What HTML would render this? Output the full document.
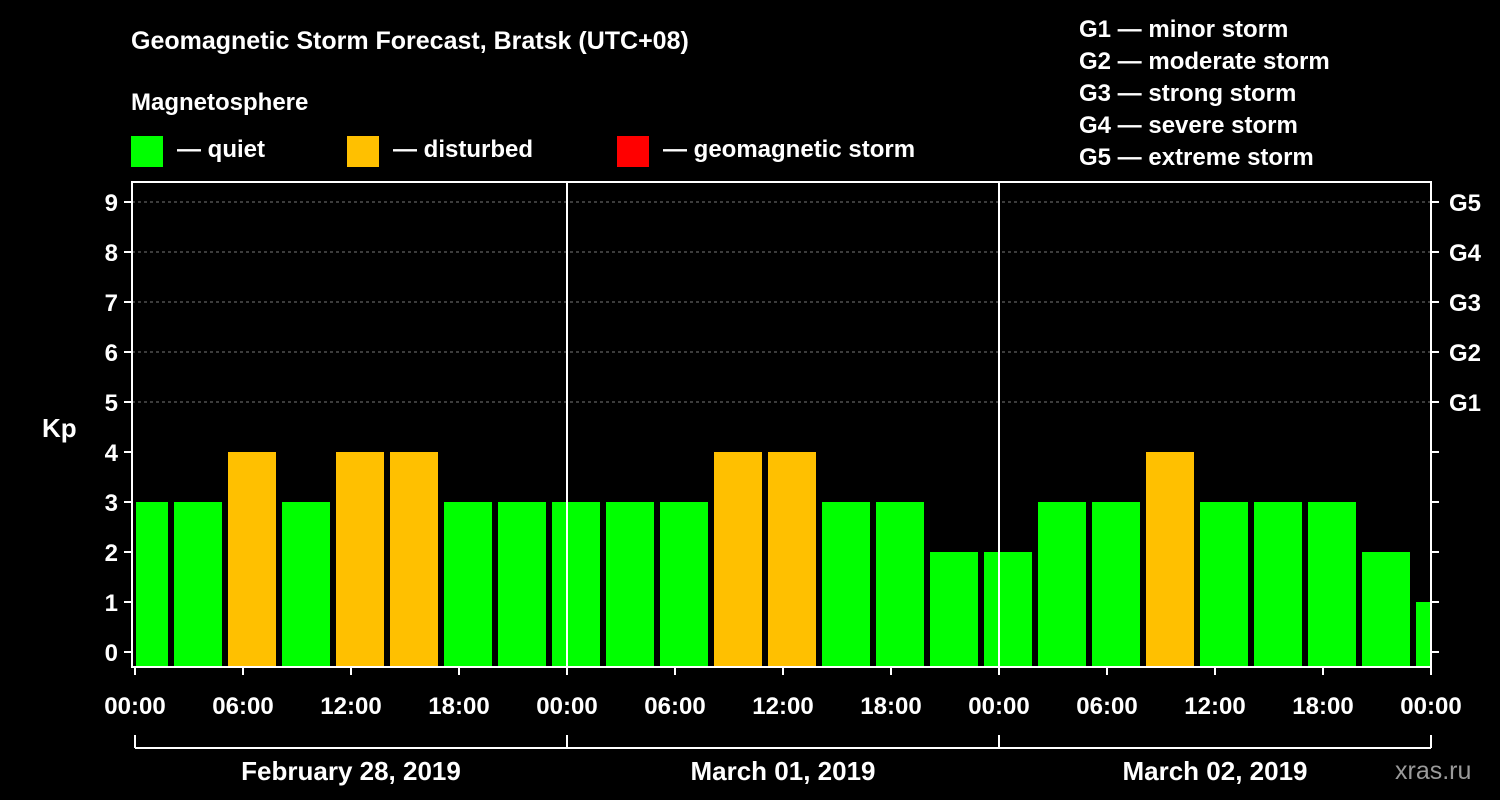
<!DOCTYPE html>
<html><head><meta charset="utf-8"><style>
html,body{margin:0;padding:0;background:#000;}
svg{display:block;font-family:"Liberation Sans",Arial,sans-serif;font-weight:bold;}
</style></head><body>
<svg id="chart" width="1500" height="800" viewBox="0 0 1500 800" xmlns="http://www.w3.org/2000/svg">
<rect width="1500" height="800" fill="#000"/>
<text x="131" y="49" fill="#fff" font-size="25">Geomagnetic Storm Forecast, Bratsk (UTC+08)</text>
<text x="131" y="110" fill="#fff" font-size="24">Magnetosphere</text>
<g><rect x="131" y="136" width="32" height="31" fill="#00ff00"/><text x="177" y="157" fill="#fff" font-size="24">— quiet</text></g>
<g><rect x="347" y="136" width="32" height="31" fill="#ffc000"/><text x="393" y="157" fill="#fff" font-size="24">— disturbed</text></g>
<g><rect x="617" y="136" width="32" height="31" fill="#ff0000"/><text x="663" y="157" fill="#fff" font-size="24">— geomagnetic storm</text></g>
<g fill="#fff" font-size="24">
<text x="1079" y="37">G1 — minor storm</text>
<text x="1079" y="69">G2 — moderate storm</text>
<text x="1079" y="101">G3 — strong storm</text>
<text x="1079" y="133">G4 — severe storm</text>
<text x="1079" y="165">G5 — extreme storm</text>
</g>
<text x="42" y="437" fill="#fff" font-size="26">Kp</text>
<text x="1395" y="779" fill="#9a9a9a" font-size="25" font-weight="normal">xras.ru</text>
<g id="grid"></g><g id="bars"></g><g id="axes"></g>
</svg>
<script>
const kpValues=[3,3,4,3,4,4,3,3,3,3,3,4,4,3,3,2,2,3,3,4,3,3,3,2,1];
const yTicks=[0,1,2,3,4,5,6,7,8,9];
const gLabels=["G1","G2","G3","G4","G5"];
const xTickLabels=["00:00","06:00","12:00","18:00","00:00","06:00","12:00","18:00","00:00","06:00","12:00","18:00","00:00"];
const dayLabels=["February 28, 2019","March 01, 2019","March 02, 2019"];
const NS="http://www.w3.org/2000/svg";
const L=132,R=1431,T=182,B=667;
const x=h=>135+h*18;
const y=v=>652-v*50;
function mk(tag,attrs,parent,txt){const e=document.createElementNS(NS,tag);for(const k in attrs)e.setAttribute(k,attrs[k]);if(txt!==undefined)e.textContent=txt;parent.appendChild(e);return e;}
const grid=document.getElementById('grid'),bars=document.getElementById('bars'),axes=document.getElementById('axes');
yTicks.forEach(v=>{if(v>=5){const l=mk('line',{x1:L,x2:R,y1:y(v),y2:y(v),stroke:'#777','stroke-dasharray':'3,3'},grid);

}});
kpValues.forEach((v,i)=>{const c=x(0.5+3*i);let x0=Math.max(c-24,L+4),x1=Math.min(c+24,R-1);
const col=v>=5?'#ff0000':(v>=4?'#ffc000':'#00ff00');
const r=mk('rect',{x:x0,y:y(v),width:x1-x0,height:B-y(v),fill:col},bars);

});
const frame=mk('rect',{x:L,y:T,width:R-L,height:B-T,fill:'none',stroke:'#fff','stroke-width':2},axes);


[1,2].forEach(d=>{const l=mk('line',{x1:x(24*d),x2:x(24*d),y1:T,y2:B,stroke:'#fff','stroke-width':2},axes);

});
yTicks.forEach(v=>{mk('line',{x1:L-8,x2:L,y1:y(v),y2:y(v),stroke:'#fff','stroke-width':2},axes);mk('line',{x1:R,x2:R+8,y1:y(v),y2:y(v),stroke:'#fff','stroke-width':2},axes);
const t=mk('text',{x:L-14,y:y(v)+9,fill:'#fff','font-size':24,'text-anchor':'end'},axes,String(v));

});
gLabels.forEach((g,i)=>{const t=mk('text',{x:1449,y:y(5+i)+9,fill:'#fff','font-size':24},axes,g);

});
xTickLabels.forEach((s,i)=>{const xx=x(6*i);mk('line',{x1:xx,x2:xx,y1:B,y2:B+8,stroke:'#fff','stroke-width':2},axes);
const t=mk('text',{x:xx,y:714,fill:'#fff','font-size':24,'text-anchor':'middle'},axes,s);

});
const br=mk('line',{x1:x(0),x2:x(72),y1:748,y2:748,stroke:'#fff','stroke-width':2},axes);


[0,1,2,3].forEach(d=>mk('line',{x1:x(24*d),x2:x(24*d),y1:735,y2:748,stroke:'#fff','stroke-width':2},axes));
dayLabels.forEach((s,i)=>{const t=mk('text',{x:x(24*i+12),y:780,fill:'#fff','font-size':26,'text-anchor':'middle'},axes,s);

});
</script>
</body></html>
